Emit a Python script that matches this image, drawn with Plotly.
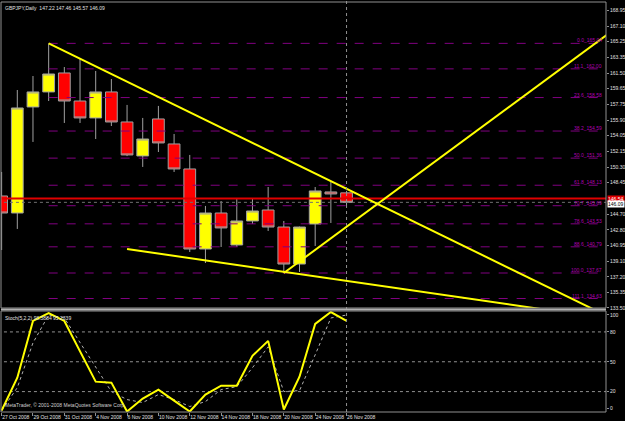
import plotly.graph_objects as go

# ---------------- data ----------------
bar_idx = list(range(23))
opens  = [146.85, 144.82, 157.46, 159.25, 161.51, 158.17, 156.15, 159.25, 155.67, 151.62, 156.03, 153.05,
          150.07, 140.53, 144.82, 141.01, 143.87, 145.18, 143.15, 138.74, 143.51, 147.33, 147.22]
highs  = [149.71, 159.48, 161.15, 165.04, 162.22, 163.18, 161.75, 160.79, 157.70, 156.15, 157.58, 154.24,
          151.74, 145.66, 146.25, 146.49, 146.49, 147.92, 143.87, 143.20, 147.92, 148.52, 147.46]
lows   = [140.41, 142.92, 153.29, 158.17, 155.55, 155.55, 153.64, 155.19, 151.60, 150.31, 152.09, 149.71,
          140.17, 138.86, 140.77, 140.77, 143.51, 142.68, 137.67, 137.79, 140.89, 143.63, 145.57]
closes = [144.82, 157.34, 159.25, 161.39, 158.17, 156.15, 159.25, 155.67, 151.74, 153.64, 153.17, 150.07,
          140.53, 144.82, 143.04, 143.87, 145.06, 143.15, 138.74, 143.15, 147.45, 147.09, 146.09]

stoch_k = [1, 34, 91, 99, 91, 60, 30, 29, 0, 13, 22, 11, 0, 17, 26, 26, 56, 71, 2, 35, 88, 100, 91]
stoch_d = [1, 24, 69, 97, 94, 69, 45, 20, 12, 9, 17, 12, 5, 10, 22, 25, 44, 65, 20, 21, 57, 94, 97]

date_tick_idx = [0, 2, 4, 6, 8, 10, 12, 14, 16, 18, 20, 22]
date_tick_labels = ["27 Oct 2008", "29 Oct 2008", "31 Oct 2008", "4 Nov 2008", "6 Nov 2008", "10 Nov 2008",
                    "12 Nov 2008", "14 Nov 2008", "18 Nov 2008", "20 Nov 2008", "24 Nov 2008", "26 Nov 2008"]

price_ticks = [168.95, 167.10, 165.25, 163.35, 161.50, 159.65, 157.75, 155.90, 154.05, 152.15, 150.30,
               148.45, 144.70, 142.80, 140.95, 139.10, 137.20, 135.35, 133.50]
stoch_tick_labels = ["100", "80", "50", "20", "0"]
stoch_tick_pos = [97, 80, 50, 20, 3]
stoch_levels = [80, 50, 20]

fib_names  = ["0.0", "11.1", "23.6", "38.2", "50.0", "61.8", "70.7", "78.6", "88.6", "100.0", "111.1"]
fib_prices = [165.04, 162.00, 158.58, 154.59, 151.36, 148.13, 145.69, 143.53, 140.79, 137.67, 134.63]
fib_start_idx = 3

trend_down_x = [3, 38.6]
trend_down_y = [165.04, 132.57]
trend_low_x = [8, 36]
trend_low_y = [140.53, 132.94]
trend_up_x = [18, 38.6]
trend_up_y = [137.67, 166.04]

hline_price = 146.54
bid_price = 146.09
vline_idx = 22

X_END = 38.55
# ---------------- figure ----------------
FONT = "Liberation Sans"
fig = go.Figure()

# fib levels
for name, p in zip(fib_names, fib_prices):
    fig.add_trace(go.Scatter(x=[fib_start_idx, X_END + 1], y=[p, p], mode="lines",
                             line=dict(color="#800080", width=1, dash="dash"),
                             xaxis="x", yaxis="y", hoverinfo="skip", showlegend=False))
    fig.add_annotation(x=X_END - 0.1, y=p, xref="x", yref="y", text=f"{name}_{p:.2f}",
                       xanchor="right", yanchor="bottom", yshift=-2, showarrow=False,
                       font=dict(family=FONT, size=5, color="#B000B0"))

# bid line and horizontal line
fig.add_trace(go.Scatter(x=[-1, X_END + 1], y=[bid_price, bid_price], mode="lines",
                         line=dict(color="#707070", width=1, dash="dot"),
                         xaxis="x", yaxis="y", hoverinfo="skip", showlegend=False))
fig.add_trace(go.Scatter(x=[-1, X_END + 1], y=[hline_price, hline_price], mode="lines",
                         line=dict(color="#E00000", width=2),
                         xaxis="x", yaxis="y", hoverinfo="skip", showlegend=False))

# candles
fig.add_trace(go.Candlestick(
    x=bar_idx, open=opens, high=highs, low=lows, close=closes,
    increasing=dict(line=dict(color="#A0A0A0", width=1), fillcolor="#FFFF00"),
    decreasing=dict(line=dict(color="#A0A0A0", width=1), fillcolor="#FF0000"),
    xaxis="x", yaxis="y", showlegend=False, hoverinfo="skip"))

# trend lines
for tx, ty in [(trend_down_x, trend_down_y), (trend_low_x, trend_low_y), (trend_up_x, trend_up_y)]:
    fig.add_trace(go.Scatter(x=tx, y=ty, mode="lines", line=dict(color="#FFFF00", width=2),
                             xaxis="x", yaxis="y", hoverinfo="skip", showlegend=False))

# stochastic
for lv in stoch_levels:
    fig.add_trace(go.Scatter(x=[-1, X_END + 1], y=[lv, lv], mode="lines",
                             line=dict(color="#909090", width=1, dash="dot"),
                             xaxis="x", yaxis="y2", hoverinfo="skip", showlegend=False))
fig.add_trace(go.Scatter(x=bar_idx, y=stoch_d, mode="lines",
                         line=dict(color="#B0B0B0", width=1, dash="dot"),
                         xaxis="x", yaxis="y2", hoverinfo="skip", showlegend=False))
fig.add_trace(go.Scatter(x=bar_idx, y=stoch_k, mode="lines",
                         line=dict(color="#FFFF00", width=2),
                         xaxis="x", yaxis="y2", hoverinfo="skip", showlegend=False))

MAIN_BOTTOM = 0.2537
STOCH_TOP = 0.2463

# vertical separator line at current bar
fig.add_shape(type="line", xref="x", yref="paper", x0=vline_idx, x1=vline_idx, y0=0, y1=1.005,
              line=dict(color="#909090", width=1, dash="dot"))

# frames
fig.add_shape(type="rect", xref="paper", yref="paper", x0=0, x1=1, y0=MAIN_BOTTOM, y1=1,
              line=dict(color="#909090", width=1))
fig.add_shape(type="rect", xref="paper", yref="paper", x0=0, x1=1, y0=0, y1=STOCH_TOP,
              line=dict(color="#909090", width=1))
fig.add_shape(type="line", xref="paper", yref="paper", x0=0, x1=1, y0=0.2500, y1=0.2500,
              line=dict(color="#B0B0B0", width=2))

# text labels
fig.add_annotation(xref="paper", yref="paper", x=0.004, y=0.997, xanchor="left", yanchor="top",
                   text="GBPJPY,Daily  147.22 147.46 145.57 146.09", showarrow=False,
                   font=dict(family=FONT, size=5, color="#E0E0E0"))
fig.add_annotation(xref="paper", yref="paper", x=0.004, y=STOCH_TOP - 0.004, xanchor="left", yanchor="top",
                   text="Stoch(5,2,2) 98.3884 95.2339", showarrow=False,
                   font=dict(family=FONT, size=5, color="#E0E0E0"))
fig.add_annotation(xref="paper", yref="paper", x=0.004, y=0.006, xanchor="left", yanchor="bottom",
                   text="MetaTrader, © 2001-2008 MetaQuotes Software Corp.", showarrow=False,
                   font=dict(family=FONT, size=5, color="#D0D0D0"))

# price boxes on the right axis
fig.add_annotation(xref="paper", yref="y", x=1, y=hline_price, xanchor="left", yanchor="middle",
                   xshift=1, text=f"{hline_price:.2f}", showarrow=False, bgcolor="#E00000",
                   borderpad=0, font=dict(family=FONT, size=5, color="white"))
fig.add_annotation(xref="paper", yref="y", x=1, y=bid_price, xanchor="left", yanchor="middle",
                   xshift=1, yshift=-2, text=f"{bid_price:.2f}", showarrow=False, bgcolor="white",
                   borderpad=0, font=dict(family=FONT, size=5, color="black"))

fig.update_layout(
    width=625, height=421,
    margin=dict(l=1, r=19, t=2, b=9, autoexpand=False),
    paper_bgcolor="black", plot_bgcolor="black",
    showlegend=False,
    boxgap=0.25, boxgroupgap=0,
    xaxis=dict(domain=[0, 1], anchor="y2", range=[-0.04, X_END], showgrid=False, zeroline=False,
               tickmode="array", tickvals=date_tick_idx, ticktext=date_tick_labels, tickangle=0,
               automargin=False,
               ticks="outside", ticklen=3, tickcolor="#909090", ticklabelposition="outside right",
               tickfont=dict(family=FONT, size=5, color="#E0E0E0"),
               rangeslider=dict(visible=False), showline=False, fixedrange=True),
    yaxis=dict(domain=[MAIN_BOTTOM, 1], anchor="x", side="right", range=[133.5, 169.97],
               automargin=False,
               showgrid=False, zeroline=False, tickmode="array", tickvals=price_ticks,
               ticktext=[f"{v:.2f}" for v in price_ticks], ticks="outside", ticklen=2,
               tickcolor="#909090", tickfont=dict(family=FONT, size=5, color="#E0E0E0")),
    yaxis2=dict(domain=[0, STOCH_TOP], anchor="x", side="right", range=[-0.5, 101],
                automargin=False,
                showgrid=False, zeroline=False, tickmode="array", tickvals=stoch_tick_pos,
                ticktext=stoch_tick_labels, ticks="outside", ticklen=2,
                tickcolor="#909090", tickfont=dict(family=FONT, size=5, color="#E0E0E0")),
)

fig.write_html("out.html")
